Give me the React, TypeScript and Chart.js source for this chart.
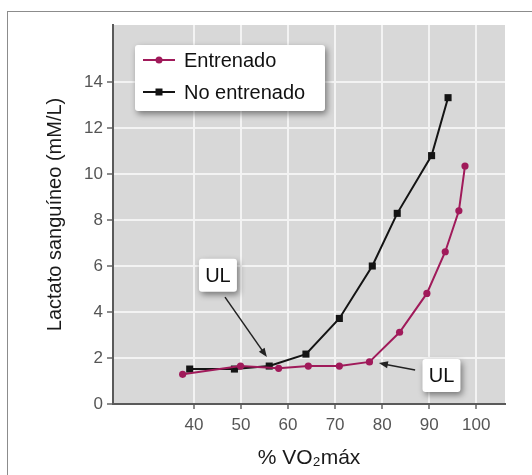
import React, { useEffect, useRef } from "react";
import { Chart, registerables } from "chart.js";

Chart.register(...registerables);

// ---- data ----
const seriesNames = ["Entrenado", "No entrenado"];
const entrenadoX = [37.6, 49.9, 58.0, 64.3, 70.9, 77.3, 83.7, 89.5, 93.4, 96.3, 97.6];
const entrenadoY = [1.29, 1.65, 1.55, 1.65, 1.65, 1.83, 3.12, 4.81, 6.62, 8.4, 10.35];
const noEntrenadoX = [39.1, 48.6, 56.0, 63.8, 70.9, 77.9, 83.2, 90.5, 94.0];
const noEntrenadoY = [1.52, 1.52, 1.65, 2.17, 3.72, 6.0, 8.29, 10.8, 13.32];
const xTicks = [40, 50, 60, 70, 80, 90, 100];
const yTicks = [0, 2, 4, 6, 8, 10, 12, 14];
const xTitle = "% VO₂máx";
const yTitle = "Lactato sanguíneo (mM/L)";

// annotation labels ("UL") with their anchor and arrow, in data units
const annotationTexts = ["UL", "UL"];
const annotationX = [45.1, 92.6];
const annotationY = [5.6, 1.24];
const arrowFromX = [46.6, 87.0];
const arrowFromY = [4.65, 1.48];
const arrowToX = [55.5, 79.3];
const arrowToY = [2.04, 1.78];

// ---- styles ----
const MAGENTA = "#a01a5a";
const BLACK = "#141414";
const FONT = "'Liberation Sans', Arial, Helvetica, sans-serif";

const roundRect = (ctx: CanvasRenderingContext2D, x: number, y: number, w: number, h: number, r: number) => {
  ctx.beginPath();
  ctx.moveTo(x + r, y);
  ctx.lineTo(x + w - r, y);
  ctx.quadraticCurveTo(x + w, y, x + w, y + r);
  ctx.lineTo(x + w, y + h - r);
  ctx.quadraticCurveTo(x + w, y + h, x + w - r, y + h);
  ctx.lineTo(x + r, y + h);
  ctx.quadraticCurveTo(x, y + h, x, y + h - r);
  ctx.lineTo(x, y + r);
  ctx.quadraticCurveTo(x, y, x + r, y);
  ctx.closePath();
};

const shadowBox = (ctx: CanvasRenderingContext2D, x: number, y: number, w: number, h: number) => {
  ctx.save();
  ctx.shadowColor = "rgba(0,0,0,0.45)";
  ctx.shadowBlur = 6;
  ctx.shadowOffsetX = 2;
  ctx.shadowOffsetY = 3;
  ctx.fillStyle = "#ffffff";
  roundRect(ctx, x, y, w, h, 3);
  ctx.fill();
  ctx.restore();
};

const decorPlugin = {
  id: "decor",
  beforeDraw(chart: any) {
    const { ctx, chartArea } = chart;
    ctx.save();
    ctx.fillStyle = "#d8d8d8";
    ctx.fillRect(chartArea.left, chartArea.top, chartArea.right - chartArea.left, chartArea.bottom - chartArea.top);
    ctx.restore();
  },
  afterDatasetsDraw(chart: any) {
    const { ctx, chartArea, scales } = chart;
    const xs = scales.x;
    const ys = scales.y;

    // arrows
    for (let i = 0; i < annotationTexts.length; i++) {
      const x1 = xs.getPixelForValue(arrowFromX[i]);
      const y1 = ys.getPixelForValue(arrowFromY[i]);
      const x2 = xs.getPixelForValue(arrowToX[i]);
      const y2 = ys.getPixelForValue(arrowToY[i]);
      const ang = Math.atan2(y2 - y1, x2 - x1);
      const hl = 9;
      const hw = 3.5;
      ctx.save();
      ctx.strokeStyle = "#222";
      ctx.fillStyle = "#222";
      ctx.lineWidth = 1.5;
      ctx.beginPath();
      ctx.moveTo(x1, y1);
      ctx.lineTo(x2 - Math.cos(ang) * hl * 0.8, y2 - Math.sin(ang) * hl * 0.8);
      ctx.stroke();
      ctx.beginPath();
      ctx.moveTo(x2, y2);
      ctx.lineTo(x2 - Math.cos(ang) * hl - Math.sin(ang) * hw, y2 - Math.sin(ang) * hl + Math.cos(ang) * hw);
      ctx.lineTo(x2 - Math.cos(ang) * hl + Math.sin(ang) * hw, y2 - Math.sin(ang) * hl - Math.cos(ang) * hw);
      ctx.closePath();
      ctx.fill();
      ctx.restore();
    }

    // UL boxes
    for (let i = 0; i < annotationTexts.length; i++) {
      const cx = xs.getPixelForValue(annotationX[i]);
      const cy = ys.getPixelForValue(annotationY[i]);
      const w = 38;
      const h = 33;
      shadowBox(ctx, cx - w / 2, cy - h / 2, w, h);
      ctx.save();
      ctx.fillStyle = "#111";
      ctx.font = `20px ${FONT}`;
      ctx.textAlign = "center";
      ctx.textBaseline = "middle";
      ctx.fillText(annotationTexts[i], cx, cy + 1);
      ctx.restore();
    }

    // legend
    const lx = chartArea.left + 22;
    const ly = chartArea.top + 20;
    const lw = 190;
    const lh = 66;
    shadowBox(ctx, lx, ly, lw, lh);
    chart.data.datasets.forEach((ds: any, i: number) => {
      const yy = ly + 15 + i * 32;
      ctx.save();
      ctx.strokeStyle = ds.borderColor;
      ctx.fillStyle = ds.borderColor;
      ctx.lineWidth = 2;
      ctx.beginPath();
      ctx.moveTo(lx + 8, yy);
      ctx.lineTo(lx + 40, yy);
      ctx.stroke();
      if (ds.pointStyle === "rect") {
        ctx.fillRect(lx + 24 - 3.5, yy - 3.5, 7, 7);
      } else {
        ctx.beginPath();
        ctx.arc(lx + 24, yy, 3.5, 0, Math.PI * 2);
        ctx.fill();
      }
      ctx.fillStyle = "#111";
      ctx.font = `20px ${FONT}`;
      ctx.textAlign = "left";
      ctx.textBaseline = "middle";
      ctx.fillText(ds.label, lx + 49, yy + 1);
      ctx.restore();
    });
  },
};

export default function App() {
  const ref = useRef<HTMLCanvasElement | null>(null);

  useEffect(() => {
    if (!ref.current) return;
    const chart = new Chart(ref.current, {
      type: "line",
      data: {
        datasets: [
          {
            label: seriesNames[0],
            data: entrenadoX.map((x, i) => ({ x, y: entrenadoY[i] })),
            borderColor: MAGENTA,
            backgroundColor: MAGENTA,
            borderWidth: 2,
            pointStyle: "circle",
            pointRadius: 3.6,
            pointBorderWidth: 0,
            tension: 0,
          },
          {
            label: seriesNames[1],
            data: noEntrenadoX.map((x, i) => ({ x, y: noEntrenadoY[i] })),
            borderColor: BLACK,
            backgroundColor: BLACK,
            borderWidth: 2,
            pointStyle: "rect",
            pointRadius: 5,
            pointBorderWidth: 0,
            tension: 0,
          },
        ],
      },
      options: {
        animation: false,
        responsive: false,
        events: [],
        layout: { padding: { left: 0, right: 27, top: 25, bottom: 0 } },
        plugins: { legend: { display: false }, tooltip: { enabled: false } },
        scales: {
          x: {
            type: "linear",
            min: 22.8,
            max: 106.1,
            afterBuildTicks: (s: any) => {
              s.ticks = xTicks.map((v) => ({ value: v }));
            },
            afterFit: (s: any) => {
              s.height = 71;
            },
            grid: {
              color: "#f3f3f3",
              lineWidth: 2,
              tickColor: "#666",
              tickLength: 5,
              tickWidth: 1.5,
            },
            border: { display: true, color: "#5a5a5a", width: 2 },
            ticks: {
              color: "#555",
              font: { family: FONT, size: 17 },
              padding: 6,
              maxRotation: 0,
              autoSkip: false,
              callback: (v: any) => String(v),
            },
            title: {
              display: true,
              text: xTitle,
              color: "#1a1a1a",
              font: { family: FONT, size: 21 },
              padding: { top: 0, bottom: 4 },
            },
          },
          y: {
            type: "linear",
            min: 0,
            max: 16.48,
            afterBuildTicks: (s: any) => {
              s.ticks = yTicks.map((v) => ({ value: v }));
            },
            afterFit: (s: any) => {
              s.width = 113;
            },
            grid: {
              color: (c: any) => (c.tick && c.tick.value === 0 ? "rgba(0,0,0,0)" : "#f3f3f3"),
              lineWidth: 2,
              tickColor: "#666",
              tickLength: 6,
              tickWidth: 1.5,
            },
            border: { display: true, color: "#5a5a5a", width: 2 },
            ticks: {
              color: "#555",
              font: { family: FONT, size: 17 },
              padding: 4,
              autoSkip: false,
              callback: (v: any) => String(v),
            },
            title: {
              display: true,
              text: yTitle,
              color: "#1a1a1a",
              font: { family: FONT, size: 20 },
              padding: { top: 43, bottom: 0 },
            },
          },
        },
      },
      plugins: [decorPlugin],
    } as any);
    return () => chart.destroy();
  }, []);

  return (
    <div
      style={{
        position: "fixed",
        left: 0,
        top: 0,
        width: 532,
        height: 475,
        overflow: "hidden",
        background: "#ffffff",
      }}
    >
      <div
        style={{
          position: "absolute",
          left: 7,
          top: 11,
          width: 540,
          height: 480,
          border: "1px solid #8c8c8c",
          boxSizing: "border-box",
        }}
      />
      <canvas ref={ref} width={532} height={475} style={{ position: "absolute", left: 0, top: 0, width: 532, height: 475 }} />
    </div>
  );
}
